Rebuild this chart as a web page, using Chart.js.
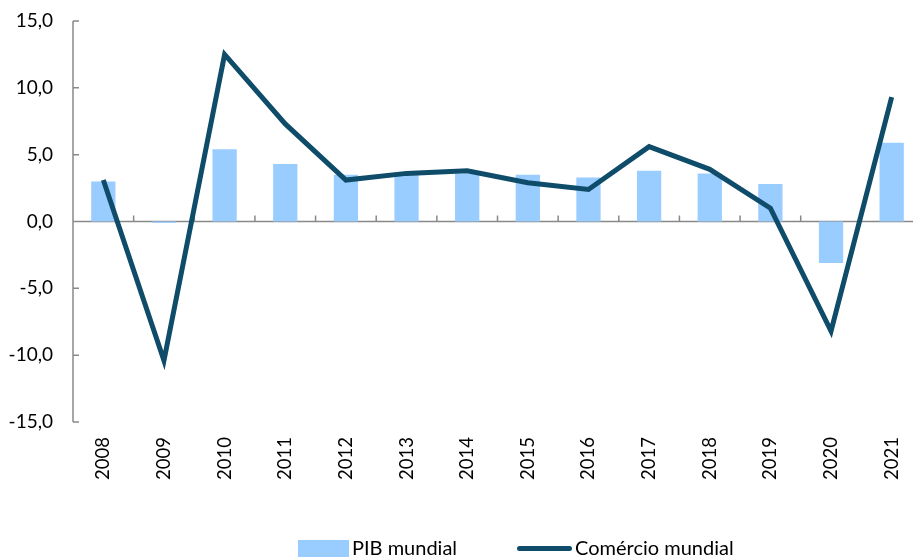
<!DOCTYPE html>
<html lang="pt">
<head>
<meta charset="utf-8">
<script src="https://cdn.jsdelivr.net/npm/chart.js@4/dist/chart.umd.min.js"></script>
<style>
    html, body { margin: 0; padding: 0; background: #fff; overflow: hidden; }
    #wrap { position: relative; width: 923px; height: 557px; }
    #legend { position: absolute; left: 0; top: 535px; font-family: Lato, sans-serif; font-size: 20px; color: #000; }
    .item { position: absolute; top: 0; white-space: nowrap; line-height: 24px; }
    .swatch { position: absolute; }
</style>
</head>
<body>
<div id="wrap">
    <canvas id="chart" width="923" height="557"></canvas>
    <div id="legend"></div>
</div>
<script>
const years = ['2008', '2009', '2010', '2011', '2012', '2013', '2014', '2015', '2016', '2017', '2018', '2019', '2020', '2021'];
const pibMundial = [3.0, -0.1, 5.4, 4.3, 3.5, 3.5, 3.6, 3.5, 3.3, 3.8, 3.6, 2.8, -3.1, 5.9];
const comercioMundial = [3.1, -10.4, 12.5, 7.3, 3.1, 3.6, 3.8, 2.9, 2.4, 5.6, 3.9, 1.0, -8.2, 9.3];
const yTicks = [-15, -10, -5, 0, 5, 10, 15];

const barColor = '#99CCFF';
const lineColor = '#0E4C6A';
const axisColor = '#898989';

// zero line + inside tick marks, like the Excel original
const axisMarks = {
    id: 'axisMarks',
    beforeDatasetsDraw(chart) {
        const { ctx, chartArea, scales } = chart;
        const x = scales.x;
        const y = scales.y;
        const y0 = y.getPixelForValue(0);
        ctx.save();
        ctx.strokeStyle = axisColor;
        ctx.lineWidth = 1.5;
        ctx.beginPath();
        ctx.moveTo(chartArea.left, y0);
        ctx.lineTo(chartArea.right, y0);
        ctx.moveTo(chartArea.left, chartArea.top);
        ctx.lineTo(chartArea.left, chartArea.bottom);
        yTicks.forEach(v => {
            const py = y.getPixelForValue(v);
            ctx.moveTo(chartArea.left, py);
            ctx.lineTo(chartArea.left + 6, py);
        });
        const step = (chartArea.right - chartArea.left) / years.length;
        for (let i = 1; i < years.length; i++) {
            const px = x.getPixelForValue(i) - step / 2;
            ctx.moveTo(px, y0);
            ctx.lineTo(px, y0 - 6);
        }
        ctx.stroke();
        ctx.restore();
    }
};

// keep the plot box where the original has it
function fixBox(scale, size) {
    if (scale.isHorizontal()) scale.height = size;
    else scale.width = size;
    scale.paddingTop = 0;
    scale.paddingBottom = 0;
    scale.paddingLeft = 0;
    scale.paddingRight = 0;
}

const chart = new Chart(document.getElementById('chart'), {
    data: {
        labels: years,
        datasets: [
            {
                type: 'line',
                label: 'Comércio mundial',
                data: comercioMundial,
                borderColor: lineColor,
                backgroundColor: lineColor,
                borderWidth: 5,
                pointRadius: 0,
                tension: 0,
                order: 1
            },
            {
                type: 'bar',
                label: 'PIB mundial',
                data: pibMundial,
                backgroundColor: barColor,
                categoryPercentage: 1,
                barPercentage: 0.4,
                order: 2
            }
        ]
    },
    options: {
        responsive: false,
        animation: false,
        layout: { padding: { top: 21, right: 1, left: 0, bottom: 0 } },
        plugins: {
            legend: { display: false },
            tooltip: { enabled: false }
        },
        scales: {
            x: {
                offset: true,
                grid: { display: false, drawTicks: false },
                border: { display: false },
                ticks: {
                    minRotation: 90,
                    maxRotation: 90,
                    padding: 15,
                    color: '#000',
                    font: { family: 'Lato', size: 18.5 }
                },
                afterFit(scale) { fixBox(scale, 135); }
            },
            y: {
                min: -15,
                max: 15,
                afterBuildTicks(scale) { scale.ticks = yTicks.map(v => ({ value: v })); },
                grid: { display: false, drawTicks: false },
                border: { display: false },
                ticks: {
                    padding: 20,
                    color: '#000',
                    font: { family: 'Lato', size: 19 },
                    callback: v => v.toFixed(1).replace('.', ',')
                },
                afterFit(scale) { fixBox(scale, 73); }
            }
        }
    },
    plugins: [axisMarks]
});

// html legend, placed like the original (which is off-centre because the picture is cropped)
const legend = document.getElementById('legend');
const legendItems = [
    { text: chart.data.datasets[1].label, kind: 'box', color: barColor, left: 298 },
    { text: chart.data.datasets[0].label, kind: 'line', color: lineColor, left: 517 }
];
legendItems.forEach(it => {
    const sw = document.createElement('div');
    sw.className = 'swatch';
    sw.style.left = it.left + 'px';
    sw.style.width = (it.kind === 'box' ? 51 : 55) + 'px';
    if (it.kind === 'box') {
        sw.style.top = '5px';
        sw.style.height = '19px';
    } else {
        sw.style.top = '11px';
        sw.style.height = '5px';
        sw.style.borderRadius = '3px';
    }
    sw.style.background = it.color;
    legend.appendChild(sw);
    const label = document.createElement('div');
    label.className = 'item';
    label.style.left = (it.left + (it.kind === 'box' ? 54 : 58)) + 'px';
    label.textContent = it.text;
    legend.appendChild(label);
});
</script>
</body>
</html>
